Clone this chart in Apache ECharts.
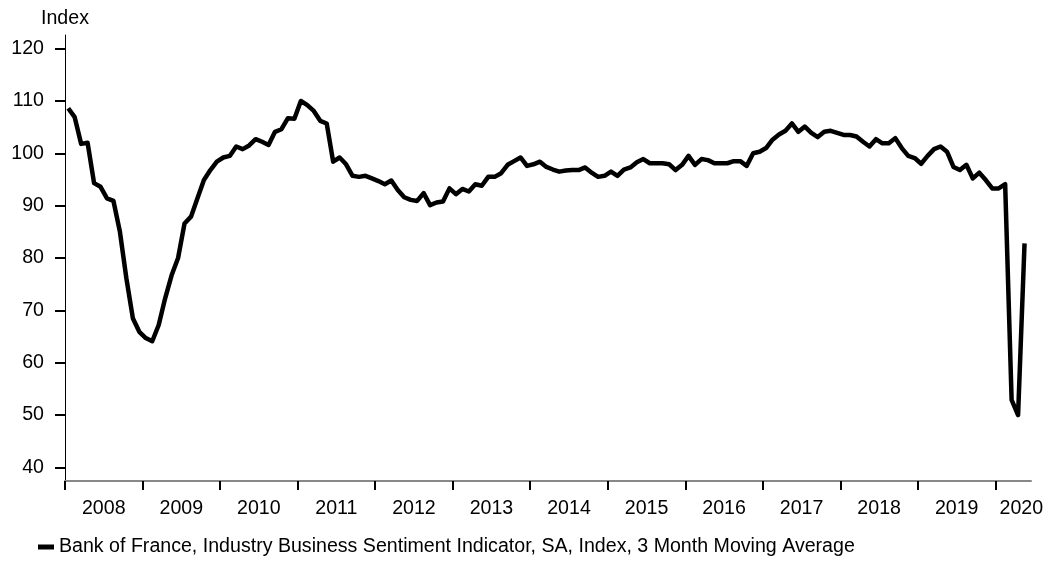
<!DOCTYPE html>
<html>
<head>
<meta charset="utf-8">
<script src="https://cdn.jsdelivr.net/npm/echarts@6/dist/echarts.min.js"></script>
<style>
  html, body { margin: 0; padding: 0; background: #fff; }
  #chart { width: 1060px; height: 567px; }
</style>
</head>
<body>
<div id="chart"></div>
<script>
// monthly values, Jan 2008 .. May 2020
var startYear = 2008;
var seriesName = 'Bank of France, Industry Business Sentiment Indicator, SA, Index, 3 Month Moving Average';
var sentiment = [
  // 2008
  108.6, 106.9, 101.8, 102.0, 94.3, 93.6, 91.4, 90.9, 85.0, 76.1, 68.5, 65.9,
  // 2009
  64.7, 64.1, 67.2, 72.3, 76.7, 80.0, 86.6, 87.9, 91.4, 94.9, 96.8, 98.4,
  // 2010
  99.2, 99.5, 101.3, 100.8, 101.5, 102.7, 102.2, 101.6, 104.1, 104.6, 106.7, 106.6,
  // 2011
  110.0, 109.2, 108.1, 106.2, 105.7, 98.4, 99.2, 97.9, 95.7, 95.5, 95.7, 95.2,
  // 2012
  94.7, 94.1, 94.8, 93.0, 91.6, 91.1, 90.9, 92.4, 90.1, 90.6, 90.8, 93.3,
  // 2013
  92.2, 93.2, 92.7, 94.1, 93.8, 95.5, 95.5, 96.2, 97.8, 98.5, 99.2, 97.6,
  // 2014
  97.9, 98.4, 97.4, 96.9, 96.5, 96.7, 96.8, 96.8, 97.3, 96.3, 95.5, 95.7,
  // 2015
  96.5, 95.7, 96.9, 97.3, 98.3, 98.9, 98.1, 98.1, 98.1, 97.9, 96.8, 97.8,
  // 2016
  99.5, 97.8, 98.9, 98.7, 98.1, 98.1, 98.1, 98.5, 98.5, 97.6, 100.0, 100.3,
  // 2017
  101.0, 102.6, 103.6, 104.3, 105.7, 104.1, 105.1, 103.9, 103.1, 104.1, 104.3, 103.9,
  // 2018
  103.5, 103.5, 103.2, 102.2, 101.3, 102.7, 101.9, 101.9, 102.9, 101.0, 99.5, 99.1,
  // 2019
  98.0, 99.5, 100.8, 101.3, 100.3, 97.4, 96.8, 97.8, 95.2, 96.3, 94.9, 93.3,
  // 2020
  93.3, 94.1, 52.9, 50.0, 82.8
];
var yearLabels = ['2008', '2009', '2010', '2011', '2012', '2013', '2014',
  '2015', '2016', '2017', '2018', '2019', '2020'];
var yTicks = [40, 50, 60, 70, 80, 90, 100, 110, 120];

var font = 'Liberation Sans, Arial, sans-serif';
var fontSize = 19.6;

// x is measured in months from Jan 2008, each point at mid-month
var lineData = [];
for (var i = 0; i < sentiment.length; i++) {
  lineData.push([i + 0.5, sentiment[i]]);
}
var yearTicks = [];
var yearLabelPos = [];
for (var k = 0; k < yearLabels.length; k++) {
  yearTicks.push(k * 12);
  yearLabelPos.push(k < yearLabels.length - 1 ? k * 12 + 6 : k * 12 + 4);
}

var myChart = echarts.init(document.getElementById('chart'));
var option = {
  backgroundColor: '#fff',
  animation: false,
  grid: {
    left: 65,
    right: 29,
    top: 35,
    bottom: 86,
    containLabel: false,
    outerBoundsMode: 'none'
  },
  legend: {
    data: [seriesName],
    left: 38,
    top: 537,
    padding: 0,
    icon: 'rect',
    itemWidth: 16,
    itemHeight: 5,
    itemGap: 4,
    textStyle: { color: '#000', fontSize: fontSize, fontFamily: font }
  },
  xAxis: {
    type: 'value',
    min: 0,
    max: sentiment.length + 0.5,
    splitLine: { show: false },
    axisLine: { onZero: false, lineStyle: { color: '#888', width: 2 } },
    axisTick: {
      customValues: yearTicks,
      length: 9,
      lineStyle: { color: '#000', width: 2 }
    },
    axisLabel: {
      customValues: yearLabelPos,
      margin: 18,
      color: '#000',
      fontSize: fontSize,
      fontFamily: font,
      formatter: function (v) {
        return yearLabels[Math.floor(v / 12)];
      }
    }
  },
  yAxis: {
    type: 'value',
    min: 37.4,
    max: 122.6,
    name: 'Index',
    nameLocation: 'end',
    nameGap: 6,
    nameTextStyle: { color: '#000', fontSize: fontSize, fontFamily: font },
    splitLine: { show: false },
    axisLine: { show: true, lineStyle: { color: '#000', width: 1 } },
    axisTick: {
      customValues: yTicks,
      length: 10,
      lineStyle: { color: '#000', width: 2 }
    },
    axisLabel: {
      customValues: yTicks,
      margin: 21,
      color: '#000',
      fontSize: fontSize,
      fontFamily: font
    }
  },
  series: [{
    name: seriesName,
    type: 'line',
    data: lineData,
    showSymbol: false,
    symbol: 'none',
    lineStyle: { color: '#000', width: 4.5, join: 'round' },
    itemStyle: { color: '#000' }
  }]
};
myChart.setOption(option);
</script>
</body>
</html>
